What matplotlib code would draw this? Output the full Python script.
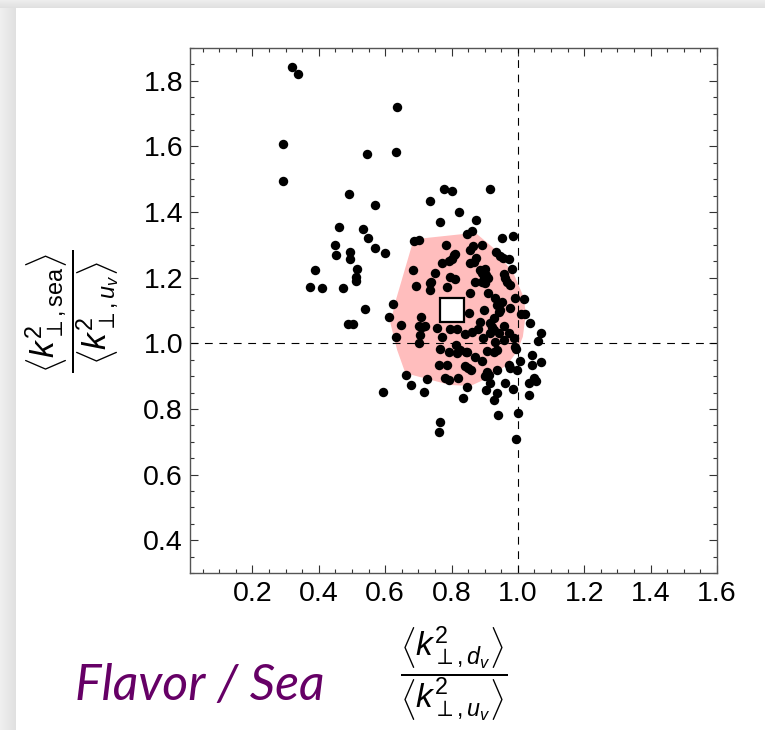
# -*- coding: utf-8 -*-
# flavor / sea ratio of transverse momentum widths, replica scatter

import matplotlib
matplotlib.use('Agg')
import matplotlib.pyplot as plt
from matplotlib.ticker import MultipleLocator
import numpy as np

plt.rcParams['font.family'] = ['Liberation Sans', 'DejaVu Sans']
plt.rcParams['mathtext.fontset'] = 'custom'
plt.rcParams['mathtext.rm'] = 'Liberation Sans'
plt.rcParams['mathtext.it'] = 'Liberation Sans:italic'

# <k2 d_v> / <k2 u_v>  (x)   and   <k2 sea> / <k2 u_v>  (y), one dot per replica
flavor_ratio = [
    0.320, 0.338, 0.637, 0.292, 0.546, 0.633, 0.293, 0.491, 0.570,
    0.776, 0.802, 0.916, 0.734, 0.823, 0.765, 0.875,
    0.460, 0.532, 0.549, 0.448, 0.451, 0.495, 0.494, 0.570, 0.599,
    0.389, 0.516, 0.512, 0.513, 0.375, 0.409, 0.473,
    0.540, 0.624, 0.611, 0.487, 0.502, 0.594,
    0.686, 0.703, 0.848, 0.863, 0.952, 0.984,
    0.783, 0.892, 0.857, 0.865, 0.811, 0.935, 0.947, 0.956, 0.972,
    0.801, 0.792, 0.771, 0.857, 0.875, 0.867, 0.806,
    0.683, 0.749, 0.982,
    0.887, 0.902, 0.892, 0.905, 0.909, 0.897, 0.902, 0.892, 0.872,
    0.957, 0.962, 0.967, 0.975,
    0.796, 0.811, 0.739, 0.734, 0.694, 0.786, 0.736,
    0.857, 0.909, 0.932, 0.952, 0.992, 1.017,
    0.977, 0.947, 0.942, 0.899, 0.852, 1.010, 1.022,
    0.937, 0.927, 0.917, 0.922, 0.929, 0.942,
    0.648, 0.634, 0.708, 0.701, 0.721, 0.706, 0.701, 0.711,
    0.756, 0.766, 0.791, 0.771, 0.796, 0.817, 0.827, 0.847,
    0.786, 0.761, 0.814, 0.818, 0.845, 0.842, 0.862, 0.879, 0.887,
    0.872, 0.892, 0.840, 0.850, 0.860,
    0.821, 0.847, 0.835, 0.792, 0.780, 0.726, 0.718, 0.679, 0.663,
    0.766, 0.761,
    0.907, 0.927, 0.937, 0.932, 0.957, 0.989, 0.995, 0.990,
    0.895, 0.915, 0.959, 0.972,
    1.037, 1.070, 1.062, 1.042, 1.070, 1.007, 0.997, 1.042,
    1.050, 1.055, 1.035, 1.034, 0.962, 0.985, 0.972, 0.975, 0.937,
    0.906, 0.912, 0.900, 0.915, 0.905, 0.937, 0.929, 0.939, 0.999, 0.994,
]
sea_ratio = [
    1.841, 1.821, 1.720, 1.607, 1.576, 1.584, 1.494, 1.456, 1.421,
    1.470, 1.464, 1.470, 1.434, 1.401, 1.371, 1.376,
    1.355, 1.348, 1.320, 1.300, 1.270, 1.278, 1.257, 1.290, 1.274,
    1.224, 1.226, 1.201, 1.190, 1.171, 1.170, 1.170,
    1.104, 1.120, 1.081, 1.060, 1.059, 0.852,
    1.313, 1.315, 1.332, 1.343, 1.322, 1.328,
    1.299, 1.301, 1.284, 1.297, 1.273, 1.279, 1.266, 1.260, 1.258,
    1.256, 1.250, 1.244, 1.244, 1.259, 1.249, 1.269,
    1.223, 1.214, 1.226,
    1.224, 1.226, 1.213, 1.208, 1.198, 1.198, 1.183, 1.188, 1.188,
    1.210, 1.198, 1.188, 1.178,
    1.201, 1.195, 1.188, 1.162, 1.176, 1.171, 1.185,
    1.152, 1.154, 1.137, 1.127, 1.139, 1.134,
    1.107, 1.102, 1.096, 1.102, 1.093, 1.090, 1.090,
    1.117, 1.076, 1.063, 1.051, 1.041, 1.030,
    1.056, 1.020, 1.079, 1.054, 1.053, 1.025, 1.002, 1.049,
    1.046, 0.982, 0.974, 1.020, 1.043, 1.045, 0.980, 0.974,
    0.934, 0.934, 0.995, 0.971, 0.974, 1.027, 1.034, 1.043, 1.066,
    0.957, 0.947, 0.932, 0.925, 0.918,
    0.893, 0.868, 0.832, 0.889, 0.895, 0.890, 0.851, 0.872, 0.903,
    0.761, 0.729,
    0.977, 0.974, 0.980, 1.005, 1.010, 1.015, 0.983, 0.990,
    1.015, 1.032, 1.053, 1.032,
    1.063, 1.030, 1.008, 0.964, 0.944, 0.947, 0.919, 0.934,
    0.895, 0.885, 0.880, 0.842, 0.880, 0.860, 0.935, 0.925, 0.919,
    0.912, 0.904, 0.900, 0.880, 0.858, 0.849, 0.827, 0.783, 0.788, 0.707,
]

# 68% region (pink) and the central value (white square)
band_x = [0.686, 0.872, 0.927, 0.987, 1.017, 1.024, 1.015, 0.997, 0.967,
          0.917, 0.857, 0.796, 0.661, 0.636, 0.616, 0.631]
band_y = [1.317, 1.337, 1.290, 1.213, 1.142, 1.091, 1.020, 0.974, 0.934,
          0.898, 0.870, 0.873, 0.909, 0.980, 1.061, 1.127]
central_x = [0.801]
central_y = [1.103]

x_ticks = [0.2, 0.4, 0.6, 0.8, 1.0, 1.2, 1.4, 1.6]
y_ticks = [0.4, 0.6, 0.8, 1.0, 1.2, 1.4, 1.6, 1.8]

W, H = 765, 730
fig = plt.figure(figsize=(W / 100, H / 100), dpi=100)

# slide card shadow along top and left edge
bg = np.ones((H, W, 3))
for r in range(8):
    bg[r, :, :] = 0.93 - 0.05 * r / 7
for c in range(16):
    bg[8:, c, :] = np.minimum(bg[8:, c, :], 0.94 - 0.06 * c / 15)
fig.figimage(bg, xo=0, yo=0, origin='upper', zorder=-10)

ax = fig.add_axes([190 / W, 1 - 573 / H, 527 / W, 525 / H])
ax.set_zorder(1)
ax.set_xlim(0.012, 1.6)
ax.set_ylim(0.3, 1.9)

ax.fill(band_x, band_y, color='#ffbdbd', lw=0, zorder=1)
ax.axvline(1.0, color='k', lw=0.8, ls=(0, (7, 6)), zorder=2)
ax.axhline(1.0, color='k', lw=0.8, ls=(0, (7, 6)), zorder=2)
ax.plot(flavor_ratio, sea_ratio, 'o', ms=6.8, color='k', mew=0, zorder=3)
ax.plot(central_x, central_y, 's', ms=17, mfc='white', mec='k', mew=1.6, zorder=4)

ax.set_xticks(x_ticks)
ax.set_yticks(y_ticks)
ax.set_xticklabels(['%.1f' % v for v in x_ticks])
ax.set_yticklabels(['%.1f' % v for v in y_ticks])
ax.xaxis.set_minor_locator(MultipleLocator(0.05))
ax.yaxis.set_minor_locator(MultipleLocator(0.05))
ax.tick_params(which='both', direction='in', top=True, right=True,
               color='#333333', width=0.8)
ax.tick_params(which='major', length=5.8, labelsize=20.5)
ax.tick_params(which='minor', length=2.9)
ax.tick_params(axis='x', pad=6)
ax.tick_params(axis='y', pad=5)
for s in ax.spines.values():
    s.set_color('#555555')
    s.set_linewidth(1.0)

fig.text(73 / W, 1 - 311 / H,
         r'$\dfrac{\left\langle k^2_{\perp,\mathrm{sea}}\right\rangle}'
         r'{\left\langle k^2_{\perp,u_v}\right\rangle}$',
         rotation=90, ha='center', va='center', fontsize=24)
fig.text(454 / W, 1 - 674 / H,
         r'$\dfrac{\left\langle k^2_{\perp,d_v}\right\rangle}'
         r'{\left\langle k^2_{\perp,u_v}\right\rangle}$',
         ha='center', va='center', fontsize=24)
fig.text(75 / W, 1 - 700 / H, 'Flavor / Sea', family=['Lato', 'DejaVu Sans'],
         style='italic', fontsize=36, color='#660066', ha='left', va='baseline')

fig.savefig('out.png', dpi=100)
